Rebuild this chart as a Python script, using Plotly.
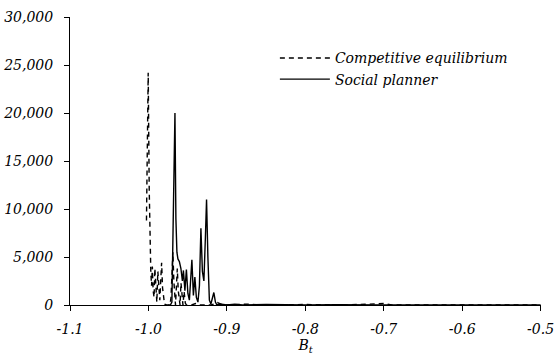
import plotly.graph_objects as go

# Competitive equilibrium (dashed)
ce_x = [-1.0025, -1.0003, -0.9990, -0.9981, -0.9970, -0.9960, -0.9950, -0.9940, -0.9928,
        -0.9918, -0.9905, -0.9893, -0.9880, -0.9868, -0.9855, -0.9843, -0.9832, -0.9820,
        -0.9808, -0.9795, -0.9770, -0.9725, -0.9712, -0.9700, -0.9688, -0.9676, -0.9665,
        -0.9655, -0.9643, -0.9632, -0.9620, -0.9608, -0.9597, -0.9585, -0.9572, -0.9560,
        -0.9545, -0.9530, -0.9515, -0.9450, -0.9400, -0.9350, -0.9200, -0.9120, -0.9050,
        -0.8700, -0.8600, -0.8000, -0.7500, -0.7000, -0.6900, -0.5000]
ce_y = [8800, 24200, 12000, 5000, 3500, 2000, 4000, 1500, 800,
        3800, 900, 300, 3500, 1200, 500, 2600, 4400, 1800,
        500, 100, 0, 0, 800, 3000, 5500, 2500, 400,
        0, 2000, 3800, 1500, 300, 0, 2300, 800, 0,
        1400, 200, 0, 0, 150, 0, 0, 250, 0,
        100, 0, 50, 0, 150, 0, 0]

# Social planner (solid)
sp_x = [-0.9745, -0.9720, -0.9701, -0.9682, -0.9662, -0.9650, -0.9637, -0.9624, -0.9605,
        -0.9586, -0.9567, -0.9554, -0.9535, -0.9516, -0.9497, -0.9478, -0.9446, -0.9427,
        -0.9408, -0.9389, -0.9369, -0.9350, -0.9331, -0.9312, -0.9293, -0.9274, -0.9259,
        -0.9242, -0.9223, -0.9204, -0.9185, -0.9166, -0.9146, -0.9127, -0.9089, -0.9000,
        -0.8900, -0.8800, -0.8500, -0.8000, -0.7600, -0.7000, -0.5000]
sp_y = [0, 0, 300, 9000, 20000, 9000, 5500, 4800, 4500,
        3800, 2500, 3600, 1500, 3700, 1200, 500, 4700, 1000,
        2900, 800, 300, 2000, 8000, 3500, 2500, 7000, 11000,
        5000, 500, 100, 600, 1300, 300, 0, 100, 0,
        80, 0, 60, 0, 40, 0, 0]

x_ticks = [-1.1, -1.0, -0.9, -0.8, -0.7, -0.6, -0.5]
x_tick_text = ["-1.1", "-1.0", "-0.9", "-0.8", "-0.7", "-0.6", "-0.5"]
y_ticks = [0, 5000, 10000, 15000, 20000, 25000, 30000]
y_tick_text = ["0", "5,000", "10,000", "15,000", "20,000", "25,000", "30,000"]

FONT = "DejaVu Serif"

fig = go.Figure()
fig.add_trace(go.Scatter(x=ce_x, y=ce_y, mode="lines", name="Competitive equilibrium",
                         line=dict(color="black", width=1.4, dash="5px,4px")))
fig.add_trace(go.Scatter(x=sp_x, y=sp_y, mode="lines", name="Social planner",
                         line=dict(color="black", width=1.4)))

axis_font = dict(family=FONT, size=14, color="black", style="italic")
fig.update_layout(
    width=556, height=359,
    margin=dict(l=70, r=15, t=17, b=54, autoexpand=False),
    paper_bgcolor="white", plot_bgcolor="white",
    font=dict(family=FONT, size=14, color="black", style="italic"),
    showlegend=True,
    legend=dict(x=0.435, y=0.912, xanchor="left", yanchor="top",
                bgcolor="rgba(0,0,0,0)", font=dict(family=FONT, size=14, style="italic"),
                itemwidth=50, tracegroupgap=0),
    xaxis=dict(range=[-1.1, -0.4995], tickvals=x_ticks, ticktext=x_tick_text,
               showline=True, linecolor="black", linewidth=1, ticks="outside",
               ticklen=5, tickcolor="black", showgrid=False, zeroline=False,
               tickfont=axis_font, automargin=False, ticklabelstandoff=6,
               title=dict(text="<i>B</i><sub><i>t</i></sub>", font=axis_font, standoff=4)),
    yaxis=dict(range=[0, 30000], tickvals=y_ticks, ticktext=y_tick_text,
               showline=True, linecolor="black", linewidth=1, ticks="outside",
               ticklen=5, tickcolor="black", showgrid=False, zeroline=False,
               tickfont=axis_font, automargin=False, ticklabelstandoff=8),
)

fig.write_html("out.html")
